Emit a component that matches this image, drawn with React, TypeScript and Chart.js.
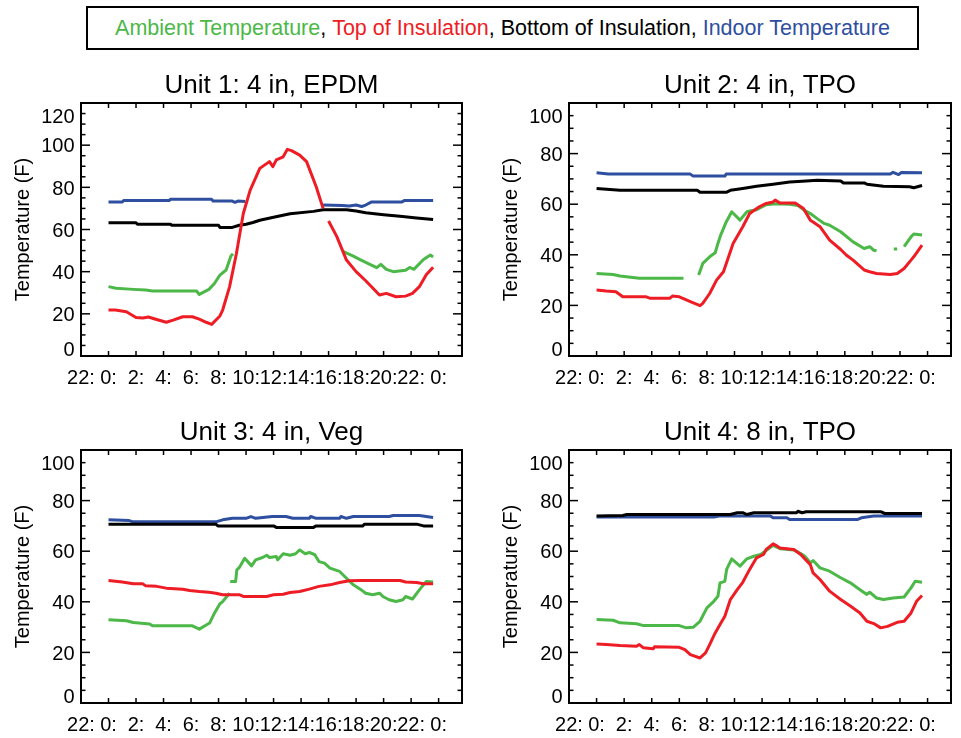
import { useEffect, useRef } from 'react';
import { Chart, registerables } from 'chart.js';

Chart.register(...registerables);

// ---------- axis definitions ----------
const hourTicks = [-2, 0, 2, 4, 6, 8, 10, 12, 14, 16, 18, 20, 22, 24];
const hourTickLabels = ['22:', '0:', '2:', '4:', '6:', '8:', '10:', '12:', '14:', '16:', '18:', '20:', '22:', '0:'];
const hourMin = -2;
const hourMax = 25.7;
const yTicksUnit1 = [0, 20, 40, 60, 80, 100, 120];
const yTicksStd = [0, 20, 40, 60, 80, 100];
const yMinorStep = 5;

const seriesNames = ['Ambient Temperature', 'Top of Insulation', 'Bottom of Insulation', 'Indoor Temperature'];
const seriesColors = ['#4cb848', '#ee1c24', '#000000', '#2e4f9f'];
const panelTitles = ['Unit 1: 4 in, EPDM', 'Unit 2: 4 in, TPO', 'Unit 3: 4 in, Veg', 'Unit 4: 8 in, TPO'];

type Pt = [number, number | null];

// ---------- Unit 1 ----------
const u1Ambient: Pt[] = [[0, 32.9], [0.55, 32.1], [1.8, 31.6], [2.7, 31.3], [3.2, 30.8], [6.4, 30.8], [6.6, 29.2], [7.3, 31.6], [7.7, 34.4], [8.1, 38.4], [8.55, 40.8], [8.9, 47.4], [9.05, 48.5], [9.1, null], [17.0, 49.7], [17.8, 47.4], [18.25, 45.8], [19, 43.5], [19.5, 41.9], [19.8, 43.5], [20.2, 41.1], [20.7, 40], [21.6, 40.7], [21.9, 42], [22.2, 41.1], [22.9, 45.8], [23.4, 47.9], [23.6, 47]];
const u1Top: Pt[] = [[0, 21.8], [0.5, 21.8], [1.3, 21], [2, 18.3], [2.5, 18], [2.9, 18.5], [3.5, 17.3], [4.2, 16], [4.7, 17], [5.4, 18.6], [6.1, 18.6], [6.6, 17.5], [7.1, 16], [7.5, 15], [8.1, 19], [8.3, 21.8], [8.8, 32.8], [9.3, 48.6], [9.8, 67.6], [10.3, 78.7], [11, 89], [11.7, 92.2], [11.95, 89.8], [12.2, 93], [12.7, 94.5], [13, 98], [13.3, 97.4], [13.9, 95.3], [14.4, 92.2], [15.1, 80.3], [15.6, 70], [15.8, null], [16, 64], [16.6, 56.6], [17.3, 45.5], [18, 40], [18.7, 35.7], [19.7, 28.9], [20.2, 29.7], [20.9, 28.1], [21.6, 28.4], [22.1, 29.7], [22.6, 32.9], [23.1, 38.5], [23.6, 42.1]];
const u1Bottom: Pt[] = [[0, 63.2], [2, 63.2], [2.1, 62.5], [4.5, 62.5], [4.6, 62], [8, 62], [8.1, 61], [9, 61], [9.5, 62], [10, 62.5], [10.5, 63.3], [11, 64.4], [12, 65.8], [13.2, 67.5], [14.9, 68.6], [15.6, 69.4], [17.3, 69.4], [18, 68.8], [18.7, 67.9], [20, 67], [21.2, 66.3], [22.4, 65.5], [23.6, 64.7]];
const u1Indoor: Pt[] = [[0, 73], [1, 73], [1.1, 73.7], [4.4, 73.7], [4.5, 74.3], [7.5, 74.3], [7.6, 73.5], [9, 73.5], [9.2, 72.9], [9.4, 73.5], [9.95, 73.3], [10.0, null], [15.6, 71.6], [17, 71.4], [17.5, 71.2], [18, 71.6], [18.4, 70.9], [18.7, 71.6], [19.1, 73], [21.3, 73], [21.5, 73.7], [23.6, 73.7]];

// ---------- Unit 2 ----------
const u2Ambient: Pt[] = [[0, 32.6], [1.2, 32.2], [1.7, 31.6], [3.1, 30.7], [6.3, 30.7], [6.4, null], [7.4, 32], [7.7, 36.6], [8.2, 39.2], [8.6, 40.8], [8.8, 44.5], [9, 47.8], [9.4, 53], [9.8, 57], [10.4, 53.7], [10.9, 57], [11.2, 57.4], [11.6, 57.8], [12.3, 59.8], [13, 60.2], [14, 60], [14.6, 59.5], [15.1, 57.5], [15.5, 56.3], [16, 54.3], [16.5, 52.4], [16.9, 51.7], [17.7, 49.1], [18.6, 45.1], [19.4, 42.5], [19.8, 43.2], [20.1, 41.8], [20.3, 41.6], [20.4, null], [21.55, 42.3], [21.8, 42.3], [21.9, null], [22.3, 43.2], [22.8, 47.1], [23, 48.2], [23.6, 47.8]];
const u2Top: Pt[] = [[0, 26.1], [0.7, 25.7], [1.4, 25.4], [1.9, 23.4], [3.6, 23.4], [3.9, 22.8], [5.3, 22.8], [5.5, 23.7], [6, 23.4], [6.8, 21.5], [7.5, 19.9], [7.7, 20.8], [8.2, 24.7], [8.7, 30], [9.2, 33.3], [9.9, 44.5], [10.6, 51.1], [11.1, 56.3], [11.8, 59], [12.3, 60.3], [12.8, 60.9], [12.95, 61.6], [13.3, 60.5], [14.4, 60.5], [15, 58.3], [15.5, 53.7], [15.7, 53], [16.2, 51.1], [16.9, 45.8], [17.7, 42.1], [18.1, 39.9], [18.6, 37.9], [19.4, 34], [19.8, 33.3], [20.3, 32.6], [21.3, 32.2], [21.8, 32.6], [22.3, 34.6], [22.8, 37.9], [23, 39.2], [23.6, 43.8]];
const u2Bottom: Pt[] = [[0, 66.2], [1.7, 65.5], [7.3, 65.5], [7.5, 64.7], [9.4, 64.7], [9.7, 65.5], [10.6, 66.2], [11.6, 67.1], [12.8, 67.9], [14, 68.8], [15.2, 69.2], [16, 69.5], [17.7, 69.2], [17.9, 68.4], [19.4, 68.4], [19.6, 67.9], [20.8, 67.1], [22.7, 66.9], [23, 66.5], [23.6, 67.4]];
const u2Indoor: Pt[] = [[0, 72.4], [0.85, 71.9], [6.8, 71.9], [7, 71.1], [9.3, 71.1], [9.4, 71.9], [21.3, 71.9], [21.5, 72.6], [21.9, 71.7], [22.1, 72.5], [23.6, 72.4]];

// ---------- Unit 3 ----------
const u3Ambient: Pt[] = [[0, 32.9], [1.3, 32.5], [1.8, 31.8], [3, 31.2], [3.2, 30.5], [6.1, 30.5], [6.6, 29.2], [7.35, 31.6], [7.7, 35.5], [8.1, 39.2], [8.3, 40.1], [8.8, 43.4], [8.82, null], [8.85, 48], [9.24, 48], [9.33, 52.6], [9.5, 53.5], [9.9, 57.2], [10.4, 54.2], [10.7, 56.6], [11.2, 57.5], [11.5, 58.4], [11.7, 57.5], [12.2, 57.9], [12.3, 56.6], [12.7, 59], [13.2, 58.4], [13.6, 59], [13.9, 60.5], [14.3, 59], [14.6, 59.5], [15, 58.6], [15.3, 55.9], [15.7, 55.3], [16.1, 53.3], [16.8, 52], [17.3, 49.3], [17.8, 46.7], [18.3, 45], [18.7, 43.4], [19.2, 42.8], [19.7, 43.4], [19.95, 42.1], [20.4, 40.8], [20.9, 40.1], [21.4, 40.8], [21.6, 42.1], [22.1, 41.1], [22.6, 44.7], [23.1, 48], [23.6, 47.8]];
const u3Top: Pt[] = [[0, 48.4], [1, 47.8], [1.8, 47.1], [2.5, 47.1], [2.7, 46.3], [3.5, 46.1], [4.2, 45.4], [5.4, 45], [5.9, 44.5], [6.6, 44.1], [7.3, 43.8], [7.8, 43.4], [8.3, 42.8], [9.5, 42.8], [9.8, 42.1], [11.5, 42.1], [12, 42.8], [12.7, 43], [13.2, 43.7], [13.9, 44.1], [14.6, 45], [15.3, 46.1], [16.1, 46.7], [16.8, 47.6], [17.5, 48.3], [18.3, 48.4], [21.2, 48.4], [21.6, 47.8], [22.4, 47.6], [22.9, 47.1], [23.6, 47.1]];
const u3Bottom: Pt[] = [[0, 70.7], [7.8, 70.7], [7.95, 70], [12, 70], [12.2, 69.4], [14.9, 69.4], [15.1, 70], [18.5, 70], [18.6, 70.7], [22.4, 70.7], [22.9, 70], [23.6, 70]];
const u3Indoor: Pt[] = [[0, 72.4], [1.5, 72.1], [1.8, 71.6], [7.8, 71.6], [8.3, 72.4], [9, 73], [10, 73], [10.35, 73.7], [10.7, 73], [11.9, 73.7], [12.9, 73.7], [13.4, 73], [14.6, 73], [14.7, 73.7], [15.1, 73], [16.8, 73], [16.9, 73.7], [17.3, 73], [17.8, 73.7], [20.4, 73.7], [20.7, 74.1], [22.6, 74.1], [23.1, 73.7], [23.6, 73.3]];

// ---------- Unit 4 ----------
const u4Ambient: Pt[] = [[0, 33], [1.2, 32.7], [1.7, 31.7], [2.9, 31.3], [3.4, 30.6], [6, 30.6], [6.5, 29.7], [7, 29.9], [7.5, 32.3], [8, 37.6], [8.5, 40.2], [8.8, 42.2], [8.95, 47.5], [9.3, 48.1], [9.43, 52.8], [9.8, 57], [10.4, 54.1], [10.9, 57], [11.4, 58], [11.9, 58.7], [12.3, 60.3], [12.8, 62.3], [13.3, 61], [14.3, 60.5], [14.8, 59.1], [15.1, 58], [15.5, 55.4], [15.7, 56.3], [16.2, 53.4], [16.9, 52.1], [17.7, 49.5], [18.4, 47.5], [19.1, 44.8], [19.6, 42.9], [19.8, 43.8], [20.3, 41.5], [20.8, 40.9], [21.5, 41.5], [22.3, 41.9], [22.8, 45.5], [23.1, 48.1], [23.6, 47.7]];
const u4Top: Pt[] = [[0, 23.3], [0.7, 23.1], [1.7, 22.7], [2.9, 22.4], [3.1, 23.1], [3.4, 21.8], [4.1, 21.4], [4.2, 22.2], [6, 22], [6.4, 21.1], [6.8, 19.1], [7.5, 17.8], [7.9, 19.8], [8.2, 23.1], [8.6, 27.7], [8.95, 31], [9.3, 34.3], [9.7, 40.9], [10.2, 44.8], [10.6, 47.7], [11.1, 52.8], [11.6, 57.4], [12.1, 58.7], [12.3, 60.7], [12.8, 62.9], [13.1, 62], [13.3, 61.3], [14.3, 60.7], [14.8, 58.7], [15.5, 54.7], [15.7, 51.4], [16.2, 48.8], [16.9, 44.2], [17.7, 40.9], [18.4, 38.3], [19.1, 35.6], [19.6, 32.3], [20.1, 31.4], [20.6, 29.7], [21.1, 30.3], [21.8, 31.9], [22.3, 32.3], [22.8, 35.6], [23.2, 40.2], [23.6, 42.5]];
const u4Bottom: Pt[] = [[0, 73.9], [1.9, 74.1], [2.2, 74.5], [9.7, 74.5], [10.2, 75.2], [10.6, 75.2], [10.9, 74.5], [11.4, 75.2], [14.5, 75.2], [14.6, 75.8], [14.9, 75.2], [15.2, 75.6], [20.6, 75.6], [20.9, 74.9], [23.6, 74.9]];
const u4Indoor: Pt[] = [[0, 73.5], [8.5, 73.5], [8.9, 73.9], [12.6, 73.9], [12.8, 73.2], [13.8, 73.2], [14, 72.5], [18.9, 72.5], [19.2, 73.2], [20.1, 73.9], [23.6, 73.9]];

// series order in each panel: ambient, top, bottom, indoor
const unitSeries: Pt[][][] = [
  [u1Ambient, u1Top, u1Bottom, u1Indoor],
  [u2Ambient, u2Top, u2Bottom, u2Indoor],
  [u3Ambient, u3Top, u3Bottom, u3Indoor],
  [u4Ambient, u4Top, u4Bottom, u4Indoor],
];
const unitYTicks = [yTicksUnit1, yTicksStd, yTicksStd, yTicksStd];

// ---------- layout (pixels) ----------
const W = 961;
const H = 738;
const panelBoxes = [
  { left: 81, top: 103, right: 462, bottom: 356 },
  { left: 569, top: 103, right: 951, bottom: 356 },
  { left: 81, top: 450, right: 462, bottom: 703 },
  { left: 569, top: 450, right: 951, bottom: 703 },
];
const FONT = '"Liberation Sans", Arial, Helvetica, sans-serif';
// draw order: Chart.js draws lower order on top
const drawOrder = [4, 1, 2, 3];

const idlAxesPlugin = {
  id: 'idlAxes',
  afterDraw(chart: any, _args: any, opts: any) {
    const { ctx, chartArea: a } = chart;
    const xs = chart.scales.x;
    const ys = chart.scales.y;
    const yTicks: number[] = opts.yTicks;
    const yMaxV = yTicks[yTicks.length - 1];
    ctx.save();
    ctx.strokeStyle = '#000';
    ctx.fillStyle = '#000';
    ctx.lineCap = 'butt';

    const seg = (x1: number, y1: number, x2: number, y2: number) => {
      ctx.beginPath();
      ctx.moveTo(x1, y1);
      ctx.lineTo(x2, y2);
      ctx.stroke();
    };

    // ticks
    ctx.lineWidth = 1.5;
    hourTicks.forEach((h) => {
      const px = xs.getPixelForValue(h);
      seg(px, a.bottom, px, a.bottom - 5);
      seg(px, a.top, px, a.top + 5);
    });
    for (let v = 0; v <= yMaxV + 1e-6; v += yMinorStep) {
      const py = ys.getPixelForValue(v);
      const major = yTicks.includes(v);
      const len = major ? 9 : 4.5;
      seg(a.left, py, a.left + len, py);
      seg(a.right, py, a.right - len, py);
    }

    // box
    ctx.lineWidth = 2;
    ctx.strokeRect(a.left, a.top, a.right - a.left, a.bottom - a.top);

    // y tick labels
    ctx.font = `20px ${FONT}`;
    ctx.textAlign = 'right';
    ctx.textBaseline = 'alphabetic';
    yTicks.forEach((v, i) => {
      const py = ys.getPixelForValue(v);
      let by = py + 7.2;
      if (i === 0) by = a.bottom;
      else if (i === yTicks.length - 1) by = a.top + 20;
      ctx.fillText(String(v), a.left - 6.5, by);
    });

    // x tick labels
    ctx.textAlign = 'center';
    hourTicks.forEach((h, i) => {
      const px = xs.getPixelForValue(h);
      ctx.fillText(hourTickLabels[i], px, a.bottom + 28);
    });

    // y axis title
    ctx.save();
    ctx.translate(a.left - 52, (a.top + a.bottom) / 2);
    ctx.rotate(-Math.PI / 2);
    ctx.textAlign = 'center';
    ctx.fillText('Temperature (F)', 0, 0);
    ctx.restore();

    // panel title
    ctx.font = `26px ${FONT}`;
    ctx.textAlign = 'center';
    ctx.fillText(opts.title, (a.left + a.right) / 2, a.top - 10);
    ctx.restore();
  },
};

function Panel({ index }: { index: number }) {
  const ref = useRef<HTMLCanvasElement | null>(null);
  useEffect(() => {
    if (!ref.current) return;
    const box = panelBoxes[index];
    const yTicks = unitYTicks[index];
    const chart = new Chart(ref.current, {
      type: 'line',
      data: {
        datasets: unitSeries[index].map((pts, si) => ({
          label: seriesNames[si],
          data: pts.map(([x, y]) => ({ x, y })),
          borderColor: seriesColors[si],
          backgroundColor: seriesColors[si],
          borderWidth: 3,
          pointRadius: 0,
          pointHoverRadius: 0,
          tension: 0,
          fill: false,
          spanGaps: false,
          borderJoinStyle: 'round',
          order: drawOrder[si],
        })),
      },
      options: {
        animation: false,
        responsive: false,
        maintainAspectRatio: false,
        events: [],
        layout: {
          padding: { left: box.left, top: box.top, right: W - box.right, bottom: H - box.bottom },
        },
        plugins: {
          legend: { display: false },
          title: { display: false },
          tooltip: { enabled: false },
          idlAxes: { yTicks, title: panelTitles[index] },
        } as any,
        scales: {
          x: { type: 'linear', min: hourMin, max: hourMax, display: false },
          y: { type: 'linear', min: yTicks[0], max: yTicks[yTicks.length - 1], display: false },
        },
      },
      plugins: [idlAxesPlugin],
    } as any);
    return () => chart.destroy();
  }, [index]);
  return (
    <canvas
      ref={ref}
      width={W}
      height={H}
      style={{ position: 'absolute', left: 0, top: 0, width: W, height: H }}
    />
  );
}

export default function App() {
  return (
    <div style={{ position: 'absolute', left: 0, top: 0, width: W, height: H, background: '#fff', overflow: 'hidden' }}>
      <div
        style={{
          position: 'absolute',
          left: 86,
          top: 6,
          width: 833,
          height: 44,
          boxSizing: 'border-box',
          border: '2px solid #000',
          display: 'flex',
          alignItems: 'center',
          justifyContent: 'center',
          fontFamily: FONT,
          fontSize: 21.5,
          whiteSpace: 'nowrap',
          color: '#000',
        }}
      >
        <span style={{ color: seriesColors[0] }}>{seriesNames[0]}</span>
        <span>,&nbsp;</span>
        <span style={{ color: seriesColors[1] }}>{seriesNames[1]}</span>
        <span>,&nbsp;</span>
        <span style={{ color: seriesColors[2] }}>{seriesNames[2]}</span>
        <span>,&nbsp;</span>
        <span style={{ color: seriesColors[3] }}>{seriesNames[3]}</span>
      </div>
      {[0, 1, 2, 3].map((i) => (
        <Panel key={i} index={i} />
      ))}
    </div>
  );
}
